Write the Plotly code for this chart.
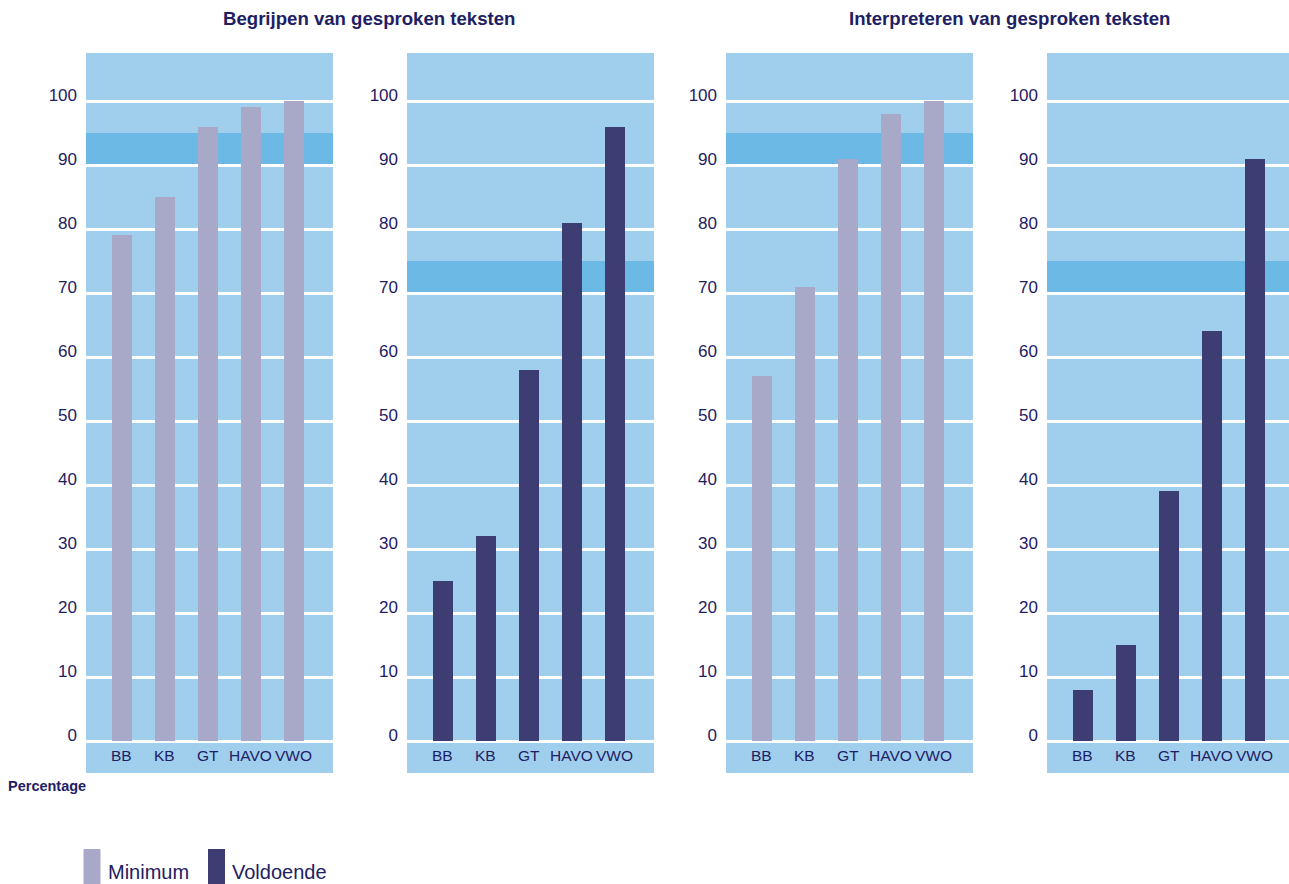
import plotly.graph_objects as go

categories = ["BB", "KB", "GT", "HAVO", "VWO"]
begrijpen_minimum = [79, 85, 96, 99, 100]
begrijpen_voldoende = [25, 32, 58, 81, 96]
interpreteren_minimum = [57, 71, 91, 98, 100]
interpreteren_voldoende = [8, 15, 39, 64, 91]
band_ranges = [(90, 95), (70, 75), (90, 95), (70, 75)]
y_ticks = list(range(0, 101, 10))
titles = ["Begrijpen van gesproken teksten", "Interpreteren van gesproken teksten"]

W, H = 1289, 884
C_BG = "#a0cfee"
C_BAND = "#6cb9e5"
C_MIN = "#a8a8c8"
C_VOL = "#3d3c73"
C_TXT = "#1e2064"
FONT = "Liberation Sans"

panels = [
    (begrijpen_minimum, C_MIN, 86, 333),
    (begrijpen_voldoende, C_VOL, 407, 654),
    (interpreteren_minimum, C_MIN, 726, 973),
    (interpreteren_voldoende, C_VOL, 1047, 1289),
]
px_per_cat = 43.0
first_off = 35.7  # px from panel left to first category centre

fig = go.Figure()
y_dom = [1 - 773 / H, 1 - 53 / H]

for i, (vals, col, x0, x1) in enumerate(panels):
    n = i + 1
    xa = "x" if n == 1 else f"x{n}"
    ya = "y" if n == 1 else f"y{n}"
    fig.add_trace(go.Bar(
        x=list(range(len(categories))), y=vals, xaxis=xa, yaxis=ya,
        marker=dict(color=col, line=dict(width=0)),
        width=0.465, showlegend=False, hoverinfo="y",
    ))
    lo = -first_off / px_per_cat
    hi = lo + (x1 - x0) / px_per_cat
    fig.update_layout(**{
        ("xaxis" if n == 1 else f"xaxis{n}"): dict(
            domain=[x0 / W, x1 / W], range=[lo, hi], anchor=ya,
            showticklabels=False, showgrid=False, zeroline=False,
            fixedrange=True,
        ),
        ("yaxis" if n == 1 else f"yaxis{n}"): dict(
            domain=y_dom, range=[-5, 107.5], anchor=xa,
            tickvals=y_ticks, ticktext=[str(v) for v in y_ticks],
            showgrid=True, gridcolor="white", gridwidth=2.5,
            zeroline=False, ticks="", ticklabelstandoff=8,
            ticklabelshift=-6,
            tickfont=dict(family=FONT, size=17, color=C_TXT),
            fixedrange=True,
        ),
    })
    b0, b1 = band_ranges[i]
    fig.add_shape(type="rect", xref=f"{xa} domain", yref=ya,
                  x0=0, x1=1, y0=b0, y1=b1, fillcolor=C_BAND,
                  line=dict(width=0), layer="below")
    for j, c in enumerate(categories):
        fig.add_annotation(x=j, y=-2.2, xref=xa, yref=ya, text=c,
                           showarrow=False, yanchor="middle",
                           font=dict(family=FONT, size=15.5, color=C_TXT))

# titles
for t, cx in zip(titles, [369, 1010]):
    fig.add_annotation(x=cx / W, y=1 - 18.5 / H, xref="paper", yref="paper",
                       text=f"<b>{t}</b>", showarrow=False,
                       xanchor="center", yanchor="middle",
                       font=dict(family=FONT, size=18.6, color=C_TXT))

fig.add_annotation(x=6 / W, y=1 - 786 / H, xref="paper", yref="paper",
                   text="<b>Percentage</b>", showarrow=False,
                   xanchor="left", yanchor="middle",
                   font=dict(family=FONT, size=14.5, color=C_TXT))

# legend
for name, col, lx in [("Minimum", C_MIN, 83.5), ("Voldoende", C_VOL, 208)]:
    fig.add_shape(type="rect", xref="paper", yref="paper",
                  x0=lx / W, x1=(lx + 17) / W, y0=0, y1=1 - 849 / H,
                  fillcolor=col, line=dict(width=0))
    fig.add_annotation(x=(lx + 23) / W, y=0, xref="paper", yref="paper",
                       text=name, showarrow=False, xanchor="left",
                       yanchor="bottom", borderpad=0, yshift=0,
                       font=dict(family=FONT, size=20, color=C_TXT))

fig.update_layout(
    width=W, height=H, margin=dict(l=0, r=0, t=0, b=0),
    paper_bgcolor="white", plot_bgcolor=C_BG, bargap=0,
    font=dict(family=FONT, color=C_TXT),
)
fig.write_html("out.html", config={"displayModeBar": False},
               post_script="document.body.style.margin='0';document.body.style.overflow='hidden';")
